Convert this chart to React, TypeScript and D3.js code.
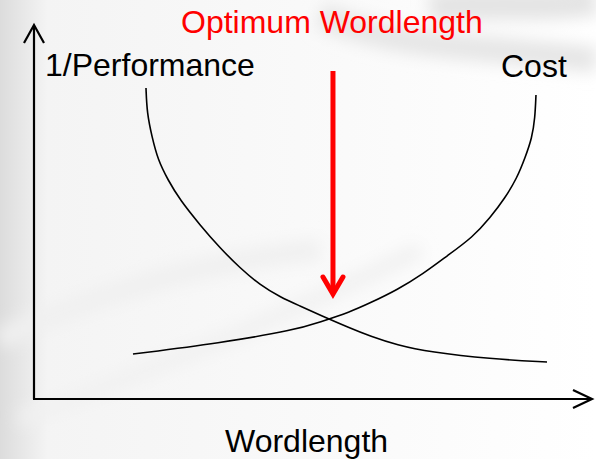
import React, { useEffect, useRef } from "react";
import * as d3 from "d3";

// curve samples (x = wordlength, y = relative value, both 0..100)
const perfX = [20.07, 20.25, 21.15, 22.22, 24.01, 26.16, 29.75, 33.33, 36.92, 40.5, 44.09, 47.67, 51.25, 56.63, 60.22, 65.05, 70.97, 81.72, 91.94];
const perfY = [83.16, 76.47, 70.05, 63.9, 58.56, 53.21, 46.52, 40.37, 35.03, 30.48, 27.27, 24.87, 22.46, 18.98, 16.84, 14.44, 12.57, 10.7, 9.89];
const costX = [17.74, 33.33, 46.77, 51.25, 56.63, 60.22, 65.05, 69.71, 74.01, 78.67, 81.72, 84.41, 86.56, 87.99, 89.25, 89.78, 89.96];
const costY = [12.03, 14.97, 18.45, 20.59, 23.26, 25.67, 29.14, 33.42, 38.24, 43.32, 48.4, 53.74, 59.09, 64.44, 69.79, 75.13, 81.28];
const optimumX = 53.58;

const W = 596;
const H = 459;

export default function App() {
  const ref = useRef<SVGSVGElement>(null);

  useEffect(() => {
    const svg = d3.select(ref.current);
    svg.selectAll("*").remove();

    const x = d3.scaleLinear().domain([0, 100]).range([34, 592]);
    const y = d3.scaleLinear().domain([0, 100]).range([399, 25]);

    // background: white with soft silver wash
    const defs = svg.append("defs");
    const lg = defs
      .append("linearGradient")
      .attr("id", "leftwash")
      .attr("x1", 0)
      .attr("x2", 1)
      .attr("y1", 0)
      .attr("y2", 0);
    lg.append("stop").attr("offset", "0%").attr("stop-color", "#dcdcdc");
    lg.append("stop").attr("offset", "8%").attr("stop-color", "#f4f4f4");
    lg.append("stop").attr("offset", "100%").attr("stop-color", "#ffffff");
    defs
      .append("filter")
      .attr("id", "blur")
      .append("feGaussianBlur")
      .attr("stdDeviation", 8);

    svg.append("rect").attr("width", W).attr("height", H).attr("fill", "url(#leftwash)");

    const swirls = svg.append("g").attr("filter", "url(#blur)").attr("fill", "none");
    swirls
      .append("path")
      .attr("d", "M320,15 C400,50 470,45 596,60")
      .attr("stroke", "#e6e6e6")
      .attr("stroke-width", 26);
    swirls
      .append("path")
      .attr("d", "M0,340 C80,300 200,260 320,250")
      .attr("stroke", "#f0f0f0")
      .attr("stroke-width", 22);
    swirls
      .append("path")
      .attr("d", "M20,420 C120,380 260,330 420,250")
      .attr("stroke", "#f1f1f1")
      .attr("stroke-width", 16);
    swirls
      .append("path")
      .attr("d", "M430,8 C480,0 540,10 596,0")
      .attr("stroke", "#e4e4e4")
      .attr("stroke-width", 30);

    // axes
    const ax = svg.append("g").attr("stroke", "#000").attr("stroke-width", 2.2).attr("fill", "none");
    ax.append("line").attr("x1", x(0)).attr("y1", y(0)).attr("x2", x(0)).attr("y2", y(100) + 1);
    ax.append("line").attr("x1", x(0) - 1).attr("y1", y(0)).attr("x2", x(100)).attr("y2", y(0));
    ax.append("path")
      .attr("d", `M${x(0) - 10},${y(100) + 18} L${x(0)},${y(100)} L${x(0) + 10},${y(100) + 18}`);
    ax.append("path")
      .attr("d", `M${x(100) - 19},${y(0) - 9} L${x(100)},${y(0)} L${x(100) - 19},${y(0) + 9}`);

    // curves
    const line = d3
      .line<[number, number]>()
      .x((d) => x(d[0]))
      .y((d) => y(d[1]))
      .curve(d3.curveBasis);

    svg
      .append("path")
      .attr("d", line(d3.zip(perfX, perfY) as [number, number][]))
      .attr("fill", "none")
      .attr("stroke", "#000")
      .attr("stroke-width", 1.6);
    svg
      .append("path")
      .attr("d", line(d3.zip(costX, costY) as [number, number][]))
      .attr("fill", "none")
      .attr("stroke", "#000")
      .attr("stroke-width", 1.6);

    // red arrow
    const ox = x(optimumX);
    const red = svg
      .append("g")
      .attr("stroke", "#ff0000")
      .attr("stroke-width", 5)
      .attr("fill", "none");
    red.append("line").attr("x1", ox).attr("y1", 71).attr("x2", ox).attr("y2", 294);
    red
      .append("path")
      .attr("d", `M${ox - 10},${277} L${ox},${294} L${ox + 10},${277}`)
      .attr("stroke-linejoin", "miter")
      .attr("stroke-linecap", "round");

    // text
    const font = "'Liberation Sans', Arial, sans-serif";
    const label = (tx: number, ty: number, s: string, c: string) =>
      svg
        .append("text")
        .attr("x", tx)
        .attr("y", ty)
        .attr("fill", c)
        .style("font-family", font)
        .style("font-size", "32px")
        .text(s);
    label(181, 33, "Optimum Wordlength", "#ff0000");
    label(45, 76, "1/Performance", "#000");
    label(501, 77, "Cost", "#000");
    label(225, 452, "Wordlength", "#000");
  }, []);

  return (
    <svg
      ref={ref}
      width={W}
      height={H}
      style={{ position: "absolute", left: 0, top: 0, display: "block" }}
    ></svg>
  );
}
